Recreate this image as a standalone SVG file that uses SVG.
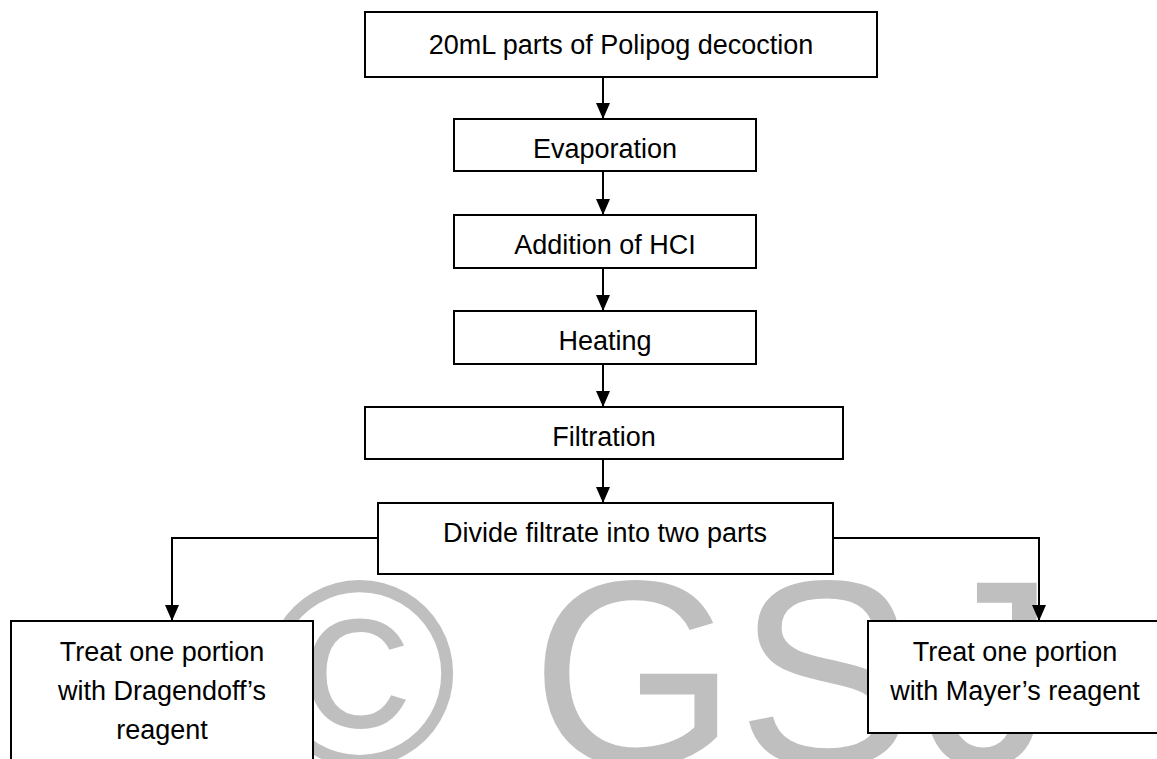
<svg xmlns="http://www.w3.org/2000/svg" width="1157" height="759" viewBox="0 0 1157 759">
  <style>
    .box { fill: #ffffff; stroke: #000000; stroke-width: 2; }
    .lbl { font-family: "Liberation Sans", Arial, sans-serif; font-size: 27px; fill: #000000; text-anchor: middle; }
    .wm { font-family: "Liberation Sans", Arial, sans-serif; font-size: 265px; fill: #bfbfbf; }
    .conn { fill: none; stroke: #000000; stroke-width: 2; }
  </style>
  <defs>
    <marker id="arr" viewBox="0 0 16 14" refX="16" refY="7" markerWidth="16" markerHeight="14" markerUnits="userSpaceOnUse" orient="auto">
      <path d="M0,0 L16,7 L0,14 Z" fill="#000000"/>
    </marker>
  </defs>
  <rect x="0" y="0" width="1157" height="759" fill="#ffffff"/>
  <text class="wm" x="262" y="765">© GS<tspan dx="10">J</tspan></text>

  <g id="connectors">
    <path class="conn" d="M603,77 L603,119" marker-end="url(#arr)"/>
    <path class="conn" d="M603,171 L603,215" marker-end="url(#arr)"/>
    <path class="conn" d="M603,268 L603,311" marker-end="url(#arr)"/>
    <path class="conn" d="M603,364 L603,407" marker-end="url(#arr)"/>
    <path class="conn" d="M603,459 L603,503" marker-end="url(#arr)"/>
    <path class="conn" d="M378,538 L172,538 L172,621" marker-end="url(#arr)"/>
    <path class="conn" d="M833,538 L1039,538 L1039,621" marker-end="url(#arr)"/>
  </g>

  <g id="n1">
    <rect class="box" x="365" y="12" width="512" height="65"/>
    <text class="lbl" x="621" y="54">20mL parts of Polipog decoction</text>
  </g>
  <g id="n2">
    <rect class="box" x="454" y="119" width="302" height="52"/>
    <text class="lbl" x="605" y="158">Evaporation</text>
  </g>
  <g id="n3">
    <rect class="box" x="454" y="215" width="302" height="53"/>
    <text class="lbl" x="605" y="254">Addition of HCI</text>
  </g>
  <g id="n4">
    <rect class="box" x="454" y="311" width="302" height="53"/>
    <text class="lbl" x="605" y="350">Heating</text>
  </g>
  <g id="n5">
    <rect class="box" x="365" y="407" width="478" height="52"/>
    <text class="lbl" x="604" y="446">Filtration</text>
  </g>
  <g id="n6">
    <rect class="box" x="378" y="503" width="455" height="71"/>
    <text class="lbl" x="605" y="542">Divide filtrate into two parts</text>
  </g>
  <g id="n7">
    <rect class="box" x="11" y="621" width="302" height="150"/>
    <text class="lbl" x="162" y="661">Treat one portion</text>
    <text class="lbl" x="162" y="700">with Dragendoff’s</text>
    <text class="lbl" x="162" y="739">reagent</text>
  </g>
  <g id="n8">
    <rect class="box" x="868" y="621" width="300" height="112"/>
    <text class="lbl" x="1015" y="661">Treat one portion</text>
    <text class="lbl" x="1015" y="700">with Mayer’s reagent</text>
  </g>
</svg>
